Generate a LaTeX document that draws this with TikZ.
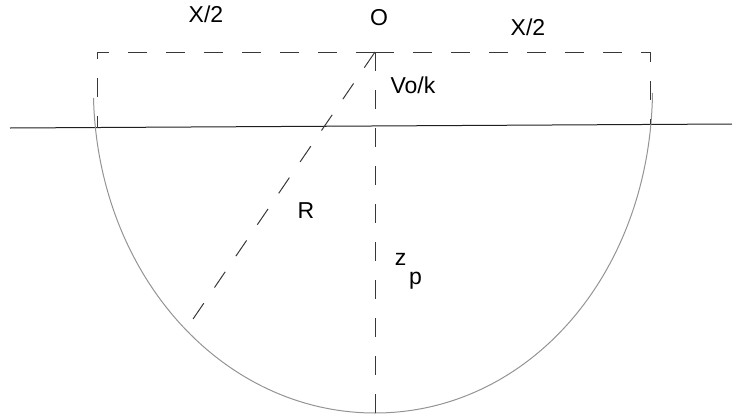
\documentclass[tikz,border=0pt]{standalone}
\usepackage{fontspec}
\setmainfont{Liberation Sans}
\begin{document}
\begin{tikzpicture}[x=1pt,y=-1pt,
  dsh/.style={draw=black!78,line width=1pt,dash pattern=on 19pt off 19pt},
  ground/.style={draw=black!88,line width=1pt},
  arcline/.style={draw=black!42,line width=1pt},
  lbl/.style={inner sep=0pt,font=\fontsize{23}{27}\selectfont}]
\useasboundingbox (0,0) rectangle (732,418);
\coordinate (O) at (375,52);
\coordinate (TL) at (97,52);
\coordinate (TR) at (650,52);
\coordinate (BL) at (97,128);
\coordinate (BR) at (650,124);
\coordinate (Bot) at (375,418);
\coordinate (Rend) at (191,322);
\coordinate (G1) at (10,128);
\coordinate (G2) at (732,124);
\coordinate (A1) at (93.5,98);
\coordinate (A2) at (375,413);
\coordinate (A3) at (652.5,93);
% ground line
\draw[ground] (G1) -- (G2);
% basin arc
\draw[arcline] (A1) .. controls (98,275) and (222,413) .. (A2)
  .. controls (528,413) and (650,275) .. (A3);
% dashed construction lines
\draw[dsh] (O) -- (TL) -- (BL);
\draw[dsh] (O) -- (TR) -- (BR);
\draw[dsh] (O) -- (Bot);
\draw[dsh] (O) -- (Rend);
% labels
\node[lbl] (xl) at (206,14) {X/2};
\node[lbl] (o) at (379,18) {O};
\node[lbl] (xr) at (528,27) {X/2};
\node[lbl] (vk) at (413,85) {Vo/k};
\node[lbl] (r) at (306,211) {R};
\node[lbl] (z) at (400.5,259) {z};
\node[lbl,anchor=base] (p) at (415.5,284) {p};
\end{tikzpicture}
\end{document}
